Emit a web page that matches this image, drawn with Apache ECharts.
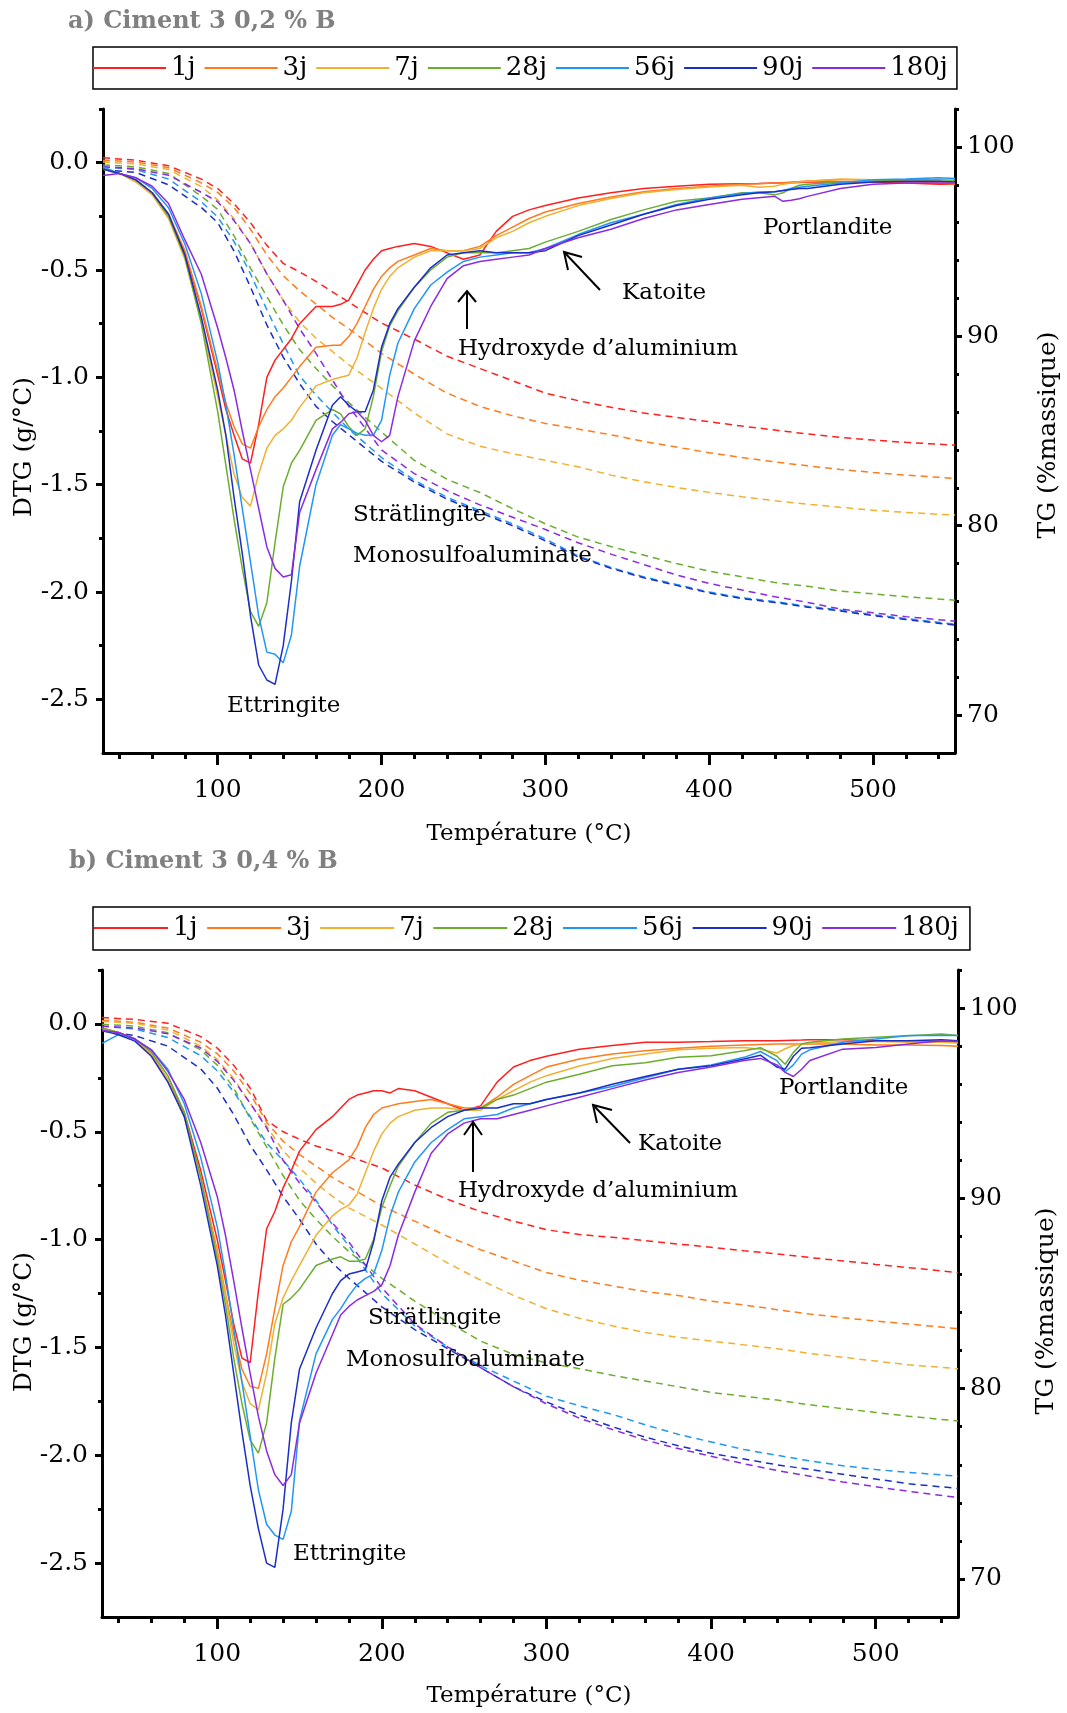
<!DOCTYPE html>
<html><head><meta charset="utf-8">
<script src="https://cdn.jsdelivr.net/npm/echarts@6/dist/echarts.min.js"></script>
<style>html,body{margin:0;padding:0;background:#fff}#c{width:1067px;height:1713px}</style>
</head><body><div id="c"></div>
<script>
// ---------- DATA ----------
const temps = [30,40,50,60,70,80,90,100,105,110,115,120,125,130,135,140,145,150,160,170,175,180,185,190,195,200,205,210,220,230,240,250,260,270,280,290,300,320,340,360,380,400,420,430,440,445,450,455,460,480,500,520,540,550];
const tgTemps = [30,50,70,90,100,110,120,130,140,150,160,170,180,200,220,240,260,280,300,320,340,360,380,400,420,440,460,480,500,520,550];
const seriesNames = ['1j','3j','7j','28j','56j','90j','180j'];
const xMajorTicks = [100,200,300,400,500];
const xMinorTicks = [40,60,80,120,140,160,180,220,240,260,280,320,340,360,380,420,440,460,480,520,540];
const dtgMajorTicks = [0,-0.5,-1,-1.5,-2,-2.5];
const dtgMinorTicks = [0.25,-0.25,-0.75,-1.25,-1.75,-2.25];
const tgMajorTicks = [70,80,90,100];
const tgMinorTicks = [72,74,76,78,82,84,86,88,92,94,96,98,102];

// Panel a) DTG
const dtgA1j = [-0.03,-0.05,-0.08,-0.14,-0.24,-0.42,-0.68,-0.99,-1.15,-1.27,-1.38,-1.40,-1.22,-1.00,-0.92,-0.87,-0.82,-0.75,-0.67,-0.67,-0.66,-0.64,-0.57,-0.50,-0.45,-0.41,-0.40,-0.39,-0.377,-0.39,-0.42,-0.45,-0.43,-0.32,-0.25,-0.22,-0.20,-0.165,-0.14,-0.12,-0.11,-0.10,-0.098,-0.097,-0.095,-0.094,-0.093,-0.092,-0.09,-0.09,-0.09,-0.095,-0.10,-0.10];
const dtgA3j = [-0.03,-0.05,-0.08,-0.14,-0.24,-0.41,-0.67,-0.97,-1.12,-1.23,-1.31,-1.33,-1.23,-1.15,-1.09,-1.05,-1.00,-0.95,-0.86,-0.85,-0.85,-0.81,-0.75,-0.67,-0.59,-0.53,-0.49,-0.46,-0.43,-0.40,-0.41,-0.41,-0.39,-0.34,-0.30,-0.26,-0.23,-0.19,-0.16,-0.135,-0.12,-0.11,-0.10,-0.098,-0.095,-0.093,-0.09,-0.088,-0.085,-0.08,-0.08,-0.087,-0.095,-0.10];
const dtgA7j = [-0.03,-0.05,-0.09,-0.15,-0.26,-0.45,-0.74,-1.09,-1.27,-1.45,-1.56,-1.60,-1.45,-1.33,-1.27,-1.24,-1.20,-1.14,-1.04,-1.01,-1.00,-0.99,-0.91,-0.79,-0.68,-0.59,-0.53,-0.49,-0.44,-0.41,-0.41,-0.41,-0.40,-0.35,-0.32,-0.28,-0.25,-0.20,-0.167,-0.14,-0.125,-0.113,-0.105,-0.115,-0.11,-0.10,-0.095,-0.09,-0.087,-0.076,-0.08,-0.08,-0.087,-0.095];
const dtgA28j = [-0.03,-0.05,-0.08,-0.14,-0.25,-0.44,-0.75,-1.16,-1.41,-1.66,-1.89,-2.09,-2.16,-2.05,-1.77,-1.51,-1.40,-1.34,-1.20,-1.15,-1.17,-1.23,-1.27,-1.24,-1.09,-0.88,-0.76,-0.69,-0.58,-0.50,-0.44,-0.42,-0.42,-0.42,-0.41,-0.40,-0.37,-0.32,-0.265,-0.22,-0.18,-0.164,-0.14,-0.14,-0.15,-0.14,-0.12,-0.105,-0.10,-0.09,-0.087,-0.08,-0.08,-0.082];
const dtgA56j = [-0.02,-0.05,-0.07,-0.12,-0.21,-0.38,-0.61,-0.93,-1.13,-1.36,-1.61,-1.86,-2.11,-2.28,-2.29,-2.33,-2.20,-1.88,-1.50,-1.27,-1.22,-1.24,-1.26,-1.27,-1.27,-1.20,-0.99,-0.84,-0.68,-0.57,-0.51,-0.46,-0.44,-0.43,-0.42,-0.42,-0.40,-0.335,-0.28,-0.24,-0.195,-0.164,-0.144,-0.137,-0.135,-0.13,-0.12,-0.115,-0.11,-0.095,-0.08,-0.076,-0.07,-0.074];
const dtgA90j = [-0.03,-0.05,-0.08,-0.14,-0.24,-0.43,-0.72,-1.06,-1.27,-1.56,-1.82,-2.11,-2.34,-2.41,-2.43,-2.25,-1.95,-1.58,-1.34,-1.13,-1.09,-1.13,-1.16,-1.16,-1.06,-0.86,-0.75,-0.68,-0.58,-0.49,-0.43,-0.42,-0.41,-0.42,-0.42,-0.42,-0.41,-0.34,-0.29,-0.24,-0.20,-0.17,-0.15,-0.14,-0.135,-0.13,-0.125,-0.12,-0.12,-0.10,-0.09,-0.087,-0.087,-0.09];
const dtgA180j = [-0.06,-0.05,-0.07,-0.11,-0.19,-0.36,-0.52,-0.77,-0.91,-1.06,-1.25,-1.43,-1.61,-1.79,-1.89,-1.93,-1.92,-1.63,-1.43,-1.24,-1.21,-1.17,-1.16,-1.20,-1.27,-1.30,-1.27,-1.09,-0.83,-0.67,-0.54,-0.48,-0.46,-0.45,-0.44,-0.43,-0.40,-0.35,-0.31,-0.26,-0.22,-0.195,-0.17,-0.163,-0.157,-0.18,-0.175,-0.168,-0.157,-0.12,-0.10,-0.095,-0.095,-0.095];

// Panel a) TG
const tgA1j = [99.42,99.3,99.0,98.3,97.8,97.0,96.0,94.8,93.85,93.4,92.9,92.35,91.8,90.7,89.85,88.95,88.3,87.65,87.0,86.6,86.25,85.95,85.72,85.49,85.26,85.05,84.84,84.66,84.52,84.4,84.25];
const tgA3j = [99.3,99.2,98.9,98.1,97.6,96.8,95.65,94.3,93.2,92.4,91.7,91.0,90.4,89.1,88.0,87.0,86.3,85.8,85.4,85.1,84.8,84.45,84.15,83.85,83.6,83.37,83.16,82.97,82.81,82.67,82.5];
const tgA7j = [99.2,99.1,98.8,97.9,97.2,96.2,94.9,93.3,91.9,90.75,89.9,89.2,88.5,87.25,85.95,84.85,84.2,83.8,83.45,83.11,82.67,82.32,82.02,81.76,81.53,81.32,81.14,80.97,80.82,80.7,80.56];
const tgA28j = [99.05,98.95,98.6,97.4,96.7,95.3,93.6,92.1,90.6,89.3,88.3,87.4,86.5,84.95,83.45,82.45,81.75,80.9,80.1,79.4,78.9,78.45,78.0,77.6,77.3,77.0,76.8,76.55,76.4,76.25,76.07];
const tgA56j = [98.95,98.8,98.3,97.1,96.3,95.0,93.3,91.4,89.6,87.9,86.9,86.0,85.1,83.6,82.4,81.5,80.8,80.1,79.3,78.4,77.8,77.3,76.9,76.5,76.2,76.0,75.75,75.55,75.3,75.1,74.8];
const tgA90j = [98.8,98.65,98.0,96.8,96.0,94.5,92.6,90.6,88.9,87.5,86.3,85.5,84.8,83.4,82.3,81.4,80.7,80.0,79.2,78.35,77.75,77.25,76.85,76.45,76.15,75.95,75.7,75.5,75.25,75.05,74.75];
const tgA180j = [98.95,98.85,98.5,97.6,97.1,96.1,94.9,93.3,91.9,90.4,89.1,87.7,86.3,84.0,82.75,81.85,81.1,80.45,79.8,79.1,78.5,77.95,77.4,76.95,76.6,76.25,75.95,75.6,75.4,75.2,74.96];

// Panel b) DTG
const dtgB1j = [-0.02,-0.04,-0.07,-0.14,-0.26,-0.41,-0.68,-1.00,-1.19,-1.39,-1.55,-1.57,-1.24,-0.95,-0.87,-0.76,-0.68,-0.59,-0.49,-0.43,-0.39,-0.35,-0.33,-0.32,-0.31,-0.31,-0.32,-0.30,-0.31,-0.34,-0.37,-0.40,-0.38,-0.27,-0.20,-0.17,-0.15,-0.117,-0.10,-0.085,-0.085,-0.082,-0.078,-0.078,-0.078,-0.077,-0.076,-0.075,-0.073,-0.073,-0.078,-0.078,-0.082,-0.085];
const dtgB3j = [-0.02,-0.04,-0.07,-0.14,-0.26,-0.43,-0.71,-1.05,-1.25,-1.44,-1.60,-1.68,-1.69,-1.53,-1.32,-1.12,-1.01,-0.94,-0.78,-0.69,-0.66,-0.63,-0.57,-0.48,-0.42,-0.39,-0.38,-0.37,-0.36,-0.35,-0.37,-0.39,-0.39,-0.34,-0.28,-0.24,-0.20,-0.163,-0.14,-0.124,-0.113,-0.104,-0.098,-0.095,-0.093,-0.093,-0.093,-0.093,-0.093,-0.093,-0.098,-0.098,-0.10,-0.104];
const dtgB7j = [-0.02,-0.04,-0.07,-0.14,-0.26,-0.43,-0.71,-1.07,-1.26,-1.48,-1.66,-1.76,-1.79,-1.62,-1.39,-1.27,-1.19,-1.12,-0.98,-0.89,-0.86,-0.84,-0.79,-0.69,-0.59,-0.51,-0.46,-0.43,-0.40,-0.39,-0.39,-0.40,-0.40,-0.35,-0.31,-0.27,-0.24,-0.195,-0.16,-0.14,-0.12,-0.113,-0.109,-0.117,-0.135,-0.115,-0.10,-0.093,-0.09,-0.082,-0.082,-0.085,-0.085,-0.089];
const dtgB28j = [-0.02,-0.04,-0.07,-0.13,-0.24,-0.41,-0.71,-1.09,-1.30,-1.55,-1.76,-1.93,-1.99,-1.85,-1.55,-1.30,-1.27,-1.23,-1.12,-1.09,-1.08,-1.10,-1.10,-1.09,-1.00,-0.85,-0.75,-0.66,-0.55,-0.46,-0.41,-0.40,-0.39,-0.35,-0.33,-0.30,-0.27,-0.233,-0.194,-0.18,-0.155,-0.148,-0.124,-0.11,-0.15,-0.187,-0.132,-0.093,-0.085,-0.07,-0.062,-0.055,-0.047,-0.054];
const dtgB56j = [-0.09,-0.05,-0.07,-0.12,-0.21,-0.37,-0.62,-0.94,-1.16,-1.41,-1.66,-1.91,-2.16,-2.32,-2.37,-2.39,-2.26,-1.84,-1.53,-1.37,-1.32,-1.26,-1.21,-1.18,-1.16,-1.05,-0.89,-0.78,-0.64,-0.55,-0.49,-0.44,-0.43,-0.42,-0.39,-0.37,-0.35,-0.32,-0.29,-0.25,-0.21,-0.19,-0.155,-0.128,-0.17,-0.222,-0.19,-0.14,-0.12,-0.085,-0.07,-0.054,-0.054,-0.054];
const dtgB90j = [-0.03,-0.05,-0.08,-0.15,-0.27,-0.43,-0.75,-1.12,-1.35,-1.62,-1.89,-2.14,-2.34,-2.50,-2.52,-2.25,-1.85,-1.60,-1.41,-1.25,-1.19,-1.16,-1.15,-1.14,-1.01,-0.82,-0.71,-0.65,-0.55,-0.48,-0.43,-0.40,-0.39,-0.39,-0.37,-0.37,-0.35,-0.32,-0.28,-0.244,-0.21,-0.194,-0.163,-0.145,-0.20,-0.21,-0.15,-0.113,-0.11,-0.093,-0.078,-0.078,-0.073,-0.078];
const dtgB180j = [-0.03,-0.04,-0.07,-0.12,-0.22,-0.35,-0.55,-0.80,-0.98,-1.19,-1.41,-1.62,-1.82,-1.98,-2.09,-2.14,-2.09,-1.85,-1.62,-1.44,-1.35,-1.31,-1.28,-1.26,-1.24,-1.21,-1.12,-0.98,-0.78,-0.60,-0.51,-0.46,-0.44,-0.44,-0.42,-0.40,-0.38,-0.34,-0.30,-0.26,-0.225,-0.20,-0.17,-0.16,-0.19,-0.225,-0.244,-0.21,-0.17,-0.117,-0.109,-0.093,-0.078,-0.082];

// Panel b) TG
const tgB1j = [99.5,99.4,99.2,98.5,97.9,97.0,95.8,94.1,93.5,93.1,92.75,92.5,92.2,91.6,90.7,89.95,89.3,88.8,88.35,88.1,87.95,87.78,87.6,87.43,87.25,87.08,86.89,86.71,86.53,86.36,86.1];
const tgB3j = [99.35,99.25,98.95,98.2,97.6,96.7,95.5,94.0,93.0,92.3,91.7,91.1,90.6,89.6,88.8,88.0,87.3,86.7,86.1,85.7,85.4,85.1,84.9,84.6,84.4,84.15,83.92,83.73,83.55,83.4,83.15];
const tgB7j = [99.3,99.2,98.85,98.0,97.3,96.3,95.0,93.8,92.5,91.6,90.8,90.1,89.5,88.6,87.6,86.6,85.7,84.9,84.2,83.7,83.3,82.95,82.7,82.5,82.3,82.1,81.85,81.65,81.45,81.25,81.05];
const tgB28j = [99.15,99.05,98.7,97.8,97.0,95.8,94.2,92.7,91.2,89.9,88.9,88.0,87.2,85.8,84.6,83.5,82.5,81.8,81.35,81.05,80.7,80.4,80.1,79.8,79.6,79.4,79.15,78.95,78.75,78.55,78.3];
const tgB56j = [99.05,98.9,98.45,97.5,96.7,95.6,94.3,92.9,92.0,91.0,89.9,88.6,87.5,85.0,83.3,82.2,81.2,80.4,79.6,79.1,78.65,78.1,77.6,77.2,76.8,76.5,76.2,75.95,75.75,75.6,75.4];
const tgB90j = [98.8,98.55,98.0,96.8,95.8,94.4,92.8,91.5,90.1,88.9,87.6,86.6,85.8,84.3,83.1,82.1,81.1,80.1,79.3,78.6,78.0,77.45,77.0,76.6,76.3,76.0,75.75,75.5,75.25,75.0,74.76];
const tgB180j = [99.05,98.95,98.65,97.9,97.2,96.2,95.0,93.7,92.0,90.8,89.8,88.7,87.7,85.3,83.4,82.2,81.1,80.1,79.2,78.45,77.85,77.3,76.85,76.45,76.05,75.7,75.4,75.1,74.85,74.6,74.28];

// ---------- STYLE / LAYOUT ----------
const F = '"DejaVu Serif", serif';
const colors = ['#ff1f1f','#ff7b1c','#f0b132','#6cad2f','#2196f3','#1b2ec6','#8a2be2'];
const dtgA = [dtgA1j,dtgA3j,dtgA7j,dtgA28j,dtgA56j,dtgA90j,dtgA180j];
const tgA = [tgA1j,tgA3j,tgA7j,tgA28j,tgA56j,tgA90j,tgA180j];
const dtgB = [dtgB1j,dtgB3j,dtgB7j,dtgB28j,dtgB56j,dtgB90j,dtgB180j];
const tgB = [tgB1j,tgB3j,tgB7j,tgB28j,tgB56j,tgB90j,tgB180j];

function mkSeries(dtgs, tgs, xi, yD, yT) {
  const out = [];
  tgs.forEach((arr, i) => out.push({
    type:'line', name:seriesNames[i], xAxisIndex:xi, yAxisIndex:yT,
    data: tgTemps.map((t,k)=>[t,arr[k]]), showSymbol:false, symbol:'none',
    lineStyle:{color:colors[i], width:1.5, type:[7,5]}, itemStyle:{color:colors[i]}, z:2
  }));
  dtgs.forEach((arr, i) => out.push({
    type:'line', name:seriesNames[i], xAxisIndex:xi, yAxisIndex:yD,
    data: temps.map((t,k)=>[t,arr[k]]), showSymbol:false, symbol:'none',
    lineStyle:{color:colors[i], width:1.5}, itemStyle:{color:colors[i]}, z:3
  }));
  return out;
}

const black = '#000';
function xMain(g){ return {type:'value', gridIndex:g, min:30, max:550, position:'bottom',
  axisLine:{show:true, onZero:false, lineStyle:{color:black, width:3}},
  axisTick:{show:true, customValues:xMajorTicks, length:12, lineStyle:{color:black, width:3}},
  axisLabel:{show:true, customValues:xMajorTicks, margin:25, color:black, fontFamily:F, fontSize:25},
  splitLine:{show:false}}; }
function xMinor(g){ return {type:'value', gridIndex:g, min:30, max:550, position:'bottom',
  axisLine:{show:false, onZero:false},
  axisTick:{show:true, customValues:xMinorTicks, length:6, lineStyle:{color:black, width:3}},
  axisLabel:{show:false}, splitLine:{show:false}}; }
function yDtg(g){ return {type:'value', gridIndex:g, min:-2.75, max:0.25, position:'left',
  axisLine:{show:true, onZero:false, lineStyle:{color:black, width:3}},
  axisTick:{show:true, customValues:dtgMajorTicks, length:7, lineStyle:{color:black, width:3}},
  axisLabel:{show:true, customValues:dtgMajorTicks, formatter:v=>Number(v).toFixed(1).replace('-0.0','0.0'), margin:14, color:black, fontFamily:F, fontSize:25},
  splitLine:{show:false}}; }
function yDtgMinor(g){ return {type:'value', gridIndex:g, min:-2.75, max:0.25, position:'left',
  axisLine:{show:false, onZero:false},
  axisTick:{show:true, customValues:dtgMinorTicks, length:4, lineStyle:{color:black, width:3}},
  axisLabel:{show:false}, splitLine:{show:false}}; }
function yTg(g){ return {type:'value', gridIndex:g, min:68, max:102, position:'right',
  axisLine:{show:true, onZero:false, lineStyle:{color:black, width:3}},
  axisTick:{show:true, customValues:tgMajorTicks, length:7, lineStyle:{color:black, width:3}},
  axisLabel:{show:true, customValues:tgMajorTicks, margin:12, color:black, fontFamily:F, fontSize:25},
  splitLine:{show:false}}; }
function yTgMinor(g){ return {type:'value', gridIndex:g, min:68, max:102, position:'right',
  axisLine:{show:false, onZero:false},
  axisTick:{show:true, customValues:tgMinorTicks, length:4, lineStyle:{color:black, width:3}},
  axisLabel:{show:false}, splitLine:{show:false}}; }

function txt(text, x, y, opt) {
  opt = opt || {};
  return {type:'text', x:x, y:y, rotation:opt.rot||0, z:10,
    style:{text:text, fill:opt.color||black, font:(opt.weight||'normal')+' '+(opt.size||23)+'px '+F,
      textAlign:opt.align||'left', textVerticalAlign:'middle'}};
}
function seg(x1,y1,x2,y2){ return {type:'line', z:10, shape:{x1,y1,x2,y2}, style:{stroke:black, lineWidth:2}}; }
function head(pts){ return {type:'polyline', z:10, shape:{points:pts}, style:{stroke:black, lineWidth:2, fill:null}}; }

const graphics = [
  txt('a) Ciment 3 0,2 % B', 68, 22, {weight:'bold', size:24, color:'#808080'}),
  txt('b) Ciment 3 0,4 % B', 69, 862, {weight:'bold', size:24, color:'#808080'}),
  txt('Température (°C)', 529, 834, {align:'center', size:23}),
  txt('Température (°C)', 529, 1696, {align:'center', size:23}),
  txt('DTG (g/°C)', 24, 447, {align:'center', size:25, rot:Math.PI/2}),
  txt('TG (%massique)', 1048, 435, {align:'center', size:25, rot:Math.PI/2}),
  txt('DTG (g/°C)', 24, 1322, {align:'center', size:25, rot:Math.PI/2}),
  txt('TG (%massique)', 1046, 1311, {align:'center', size:25, rot:Math.PI/2}),
  // annotations panel a
  txt('Portlandite', 763, 228), txt('Katoite', 622, 293), txt('Hydroxyde d’aluminium', 458, 349),
  txt('Strätlingite', 353, 515), txt('Monosulfoaluminate', 353, 556), txt('Ettringite', 227, 706),
  // annotations panel b
  txt('Portlandite', 779, 1088), txt('Katoite', 638, 1144), txt('Hydroxyde d’aluminium', 458, 1191),
  txt('Strätlingite', 368, 1318), txt('Monosulfoaluminate', 346, 1360), txt('Ettringite', 293, 1554),
  // arrows
  seg(467,329,467,292), head([[458,302],[467,291],[476,302]]),
  seg(600,290,565,253), head([[582,257],[564,252],[568,270]]),
  seg(473,1172,473,1123), head([[464,1135],[473,1122],[482,1135]]),
  seg(630,1143,594,1106), head([[612,1110],[593,1105],[597,1123]])
];

const legendBase = {data:seriesNames, orient:'horizontal', icon:'rect', itemHeight:2,
  borderColor:black, borderWidth:1.5, selectedMode:false,
  textStyle:{fontFamily:F, fontSize:26, color:black, lineHeight:26}};

const option = {
  animation:false,
  backgroundColor:'#fff',
  grid:[{left:103, top:109, width:852, height:644}, {left:102, top:970, width:856, height:647}],
  legend:[
    Object.assign({}, legendBase, {left:93, top:47, itemWidth:73, itemGap:9, padding:[8,9,8,0]}),
    Object.assign({}, legendBase, {left:93, top:907, itemWidth:74, itemGap:9.5, padding:[8,11,9,1]})
  ],
  xAxis:[xMain(0), xMinor(0), xMain(1), xMinor(1)],
  yAxis:[yDtg(0), yTg(0), yDtgMinor(0), yTgMinor(0), yDtg(1), yTg(1), yDtgMinor(1), yTgMinor(1)],
  series:[].concat(mkSeries(dtgA, tgA, 0, 0, 1), mkSeries(dtgB, tgB, 2, 4, 5)),
  graphic:graphics
};
const chart = echarts.init(document.getElementById('c'));
chart.setOption(option);
</script>
</body></html>
